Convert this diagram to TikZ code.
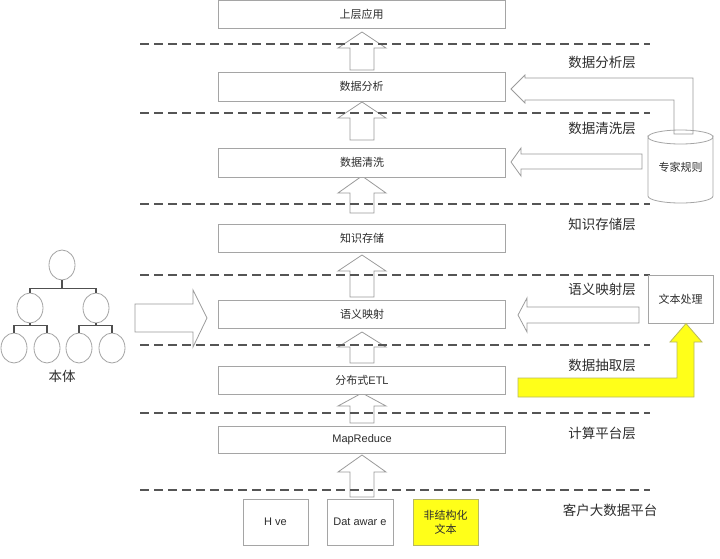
\documentclass[tikz,border=0pt]{standalone}
\usepackage{fontspec}
\setmainfont{Liberation Sans}
\newfontfamily\cjk{Noto Sans CJK SC}
\usetikzlibrary{shapes.geometric}
\definecolor{boxline}{RGB}{165,165,165}
\definecolor{arrline}{RGB}{155,155,155}
\definecolor{dashc}{RGB}{85,85,85}
\definecolor{txt}{RGB}{45,45,45}
\definecolor{yel}{RGB}{255,255,25}
\definecolor{yelline}{RGB}{185,185,95}
\definecolor{treeline}{RGB}{80,80,80}
\newcommand\blkup[4]{% x center, tip y, bottom y, head length
  \draw[blockarrow] (#1-12,#3) -- (#1-12,#2+#4) -- (#1-24,#2+#4) -- (#1,#2)
    -- (#1+24,#2+#4) -- (#1+12,#2+#4) -- (#1+12,#3) -- cycle;}
\begin{document}
\begin{tikzpicture}[x=1pt,y=-1pt,
  layerbox/.style={draw=boxline, fill=white, line width=0.8pt, minimum width=287pt,
    inner sep=0pt, text=txt, font=\fontsize{11}{13}\selectfont},
  smallbox/.style={draw=boxline, fill=white, line width=0.8pt, minimum width=65pt,
    minimum height=46pt, inner sep=0pt, text=txt, font=\fontsize{11}{14}\selectfont, align=center},
  layerdash/.style={draw=dashc, line width=1.4pt, dash pattern=on 9pt off 5pt},
  layerlabel/.style={text=txt, font=\cjk\fontsize{13.5}{15}\selectfont},
  blockarrow/.style={draw=arrline, fill=white, line width=0.8pt, line join=miter},
  yelarrow/.style={draw=yelline, fill=yel, line width=0.8pt},
  treenode/.style={ellipse, draw=boxline, fill=white, line width=0.8pt,
    minimum width=26pt, minimum height=30pt, inner sep=0pt},
  treeedge/.style={draw=treeline, line width=1.1pt}]
\useasboundingbox[fill=white] (0,0) rectangle (720,558);

% up block arrows (behind boxes)
\blkup{362}{32}{70}{16}
\blkup{362}{102}{140}{16}
\blkup{362}{176}{213}{17}
\blkup{362}{255}{297}{16}
\blkup{362}{332}{363}{15}
\blkup{362}{393}{423}{13}
\blkup{362}{455}{497}{17}

% dashed layer lines (drawn over the arrows)
\foreach \yy in {44,113,204,275,345,413,490}
  \draw[layerdash] (140,\yy) -- (650,\yy);

% main layer boxes
\node[layerbox, minimum height=28pt] (app) at (361.5,14.5) {\cjk 上层应用};
\node[layerbox, minimum height=29pt] (ana) at (361.5,86.5) {\cjk 数据分析};
\node[layerbox, minimum height=29pt] (cln) at (362,162.5) {\cjk 数据清洗};
\node[layerbox, minimum height=28pt] (sto) at (362,238) {\cjk 知识存储};
\node[layerbox, minimum height=28pt] (map) at (362,314) {\cjk 语义映射};
\node[layerbox, minimum height=28pt] (etl) at (362,380) {{\cjk 分布式}ETL};
\node[layerbox, minimum height=27pt] (mr) at (362,439.5) {MapReduce};

% bottom platform boxes
\node[smallbox] (hive) at (275.5,522) {H ve};
\node[smallbox, minimum width=66pt] (dw) at (360,522) {Dat awar e};
\node[smallbox, fill=yel, draw=yelline] (txt) at (445.5,522) {\cjk 非结构化\\\cjk 文本};

% right layer labels
\node[layerlabel] (l1) at (602,62) {数据分析层};
\node[layerlabel] (l2) at (602,128) {数据清洗层};
\node[layerlabel] (l3) at (602,224) {知识存储层};
\node[layerlabel] (l4) at (602,289) {语义映射层};
\node[layerlabel] (l5) at (602,365) {数据抽取层};
\node[layerlabel] (l6) at (602,433) {计算平台层};
\node[layerlabel] (l7) at (610,510) {客户大数据平台};

% L-shaped arrow from expert rules to data analysis
\draw[blockarrow] (674,134) -- (674,100) -- (525,100) -- (525,103) -- (511,89)
  -- (525,75) -- (525,78) -- (693,78) -- (693,134) -- cycle;
% arrow from expert rules to data cleaning
\draw[blockarrow] (642,169) -- (521,169) -- (521,176) -- (511,162) -- (521,148)
  -- (521,154) -- (642,154) -- cycle;

% expert rules cylinder
\draw[draw=boxline, fill=white, line width=0.8pt]
  (648,137) -- (648,196) arc[start angle=180, end angle=360, x radius=32.5pt, y radius=7pt]
  -- (713,137) arc[start angle=0, end angle=-180, x radius=32.5pt, y radius=7pt] -- cycle;
\draw[draw=boxline, line width=0.8pt] (648,137) arc[start angle=180, end angle=360, x radius=32.5pt, y radius=-7pt];
\node[text=txt, font=\cjk\fontsize{11}{13}\selectfont] (rules) at (680.5,167) {专家规则};

% text processing box
\node[draw=boxline, fill=white, line width=0.8pt, minimum width=65pt, minimum height=48pt,
  inner sep=0pt, text=txt, font=\cjk\fontsize{11}{13}\selectfont] (tp) at (680.5,299) {文本处理};

% arrow from text processing to semantic mapping
\draw[blockarrow] (639,323) -- (527,323) -- (527,332) -- (518,315) -- (527,298)
  -- (527,307) -- (639,307) -- cycle;

% yellow arrow from extraction layer up to text processing
\draw[yelarrow] (518,378) -- (677,378) -- (677,342) -- (670,342) -- (686,323.5)
  -- (702,342) -- (694,342) -- (694,397) -- (518,397) -- cycle;

% big right arrow from ontology
\draw[blockarrow] (135,304) -- (193,304) -- (193,290) -- (207,318) -- (193,347)
  -- (193,332) -- (135,332) -- cycle;

% ontology tree
\node[treenode] (t0) at (62,265) {};
\node[treenode] (t1) at (30,308) {};
\node[treenode] (t2) at (96,308) {};
\node[treenode] (t3) at (14,348) {};
\node[treenode] (t4) at (47,348) {};
\node[treenode] (t5) at (79,348) {};
\node[treenode] (t6) at (112,348) {};
\draw[treeedge] (t0.south) -- ++(0,8) -| (t1.north);
\draw[treeedge] (t0.south) -- ++(0,8) -| (t2.north);
\draw[treeedge] (t1.south) -- ++(0,2.5) -| (t3.north);
\draw[treeedge] (t1.south) -- ++(0,2.5) -| (t4.north);
\draw[treeedge] (t2.south) -- ++(0,2.5) -| (t5.north);
\draw[treeedge] (t2.south) -- ++(0,2.5) -| (t6.north);
\node[text=txt, font=\cjk\fontsize{13.5}{15}\selectfont] (onto) at (62,376) {本体};
\end{tikzpicture}
\end{document}
